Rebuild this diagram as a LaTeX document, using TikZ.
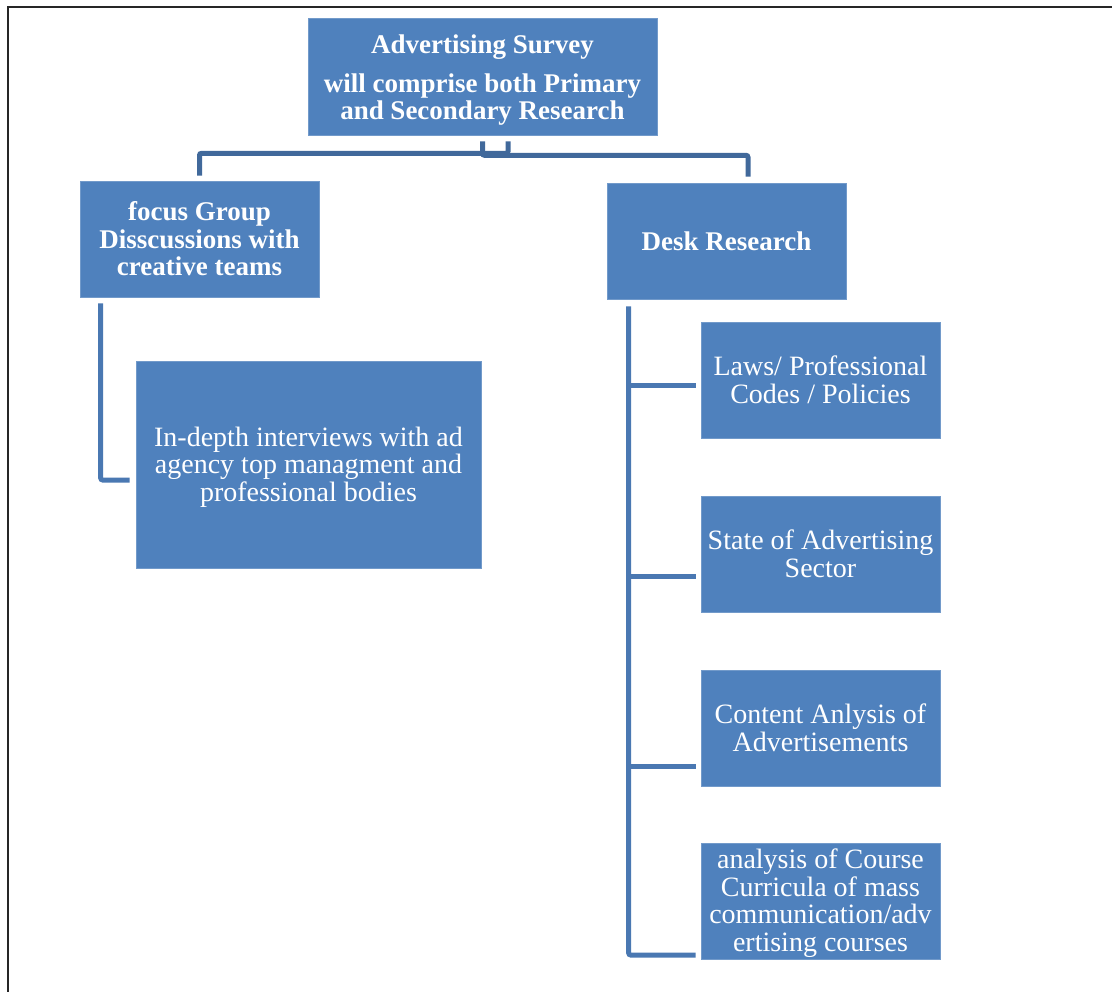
\documentclass[tikz,border=0pt]{standalone}
\usepackage{fontspec}
\setmainfont{Liberation Serif}
\definecolor{boxblue}{HTML}{4F81BD}
\definecolor{topline}{HTML}{41699B}
\definecolor{subline}{HTML}{4A78B2}
\newcommand{\firstpad}[1]{\rule{0pt}{#1}}
\begin{document}
\begin{tikzpicture}[x=1pt,y=-1pt,
  box/.style={fill=boxblue,draw=boxblue!80!white,line width=0.6pt,text=white,inner sep=0pt,align=center,
    font=\fontsize{28}{27.5}\selectfont},
  boldbox/.style={box,font=\fontsize{27}{27.5}\selectfont\bfseries},
  topconn/.style={draw=topline,line width=5pt,rounded corners=2pt},
  conn/.style={draw=subline,line width=5pt,rounded corners=2pt},
  frameline/.style={draw=black!85,line width=1.6pt}]
\useasboundingbox (0,0) rectangle (1112,992);
\draw[frameline] (8,992) -- (8,7) -- (1112,7);

\node[boldbox,minimum width=349,minimum height=117] (top) at (482.5,76.5)
  {\firstpad{26pt}Advertising Survey\\[11pt]will comprise both Primary\\and Secondary Research};
\node[boldbox,minimum width=239,minimum height=116] (focus) at (199.5,239)
  {focus Group\\Disscussions with\\creative teams};
\node[boldbox,minimum width=239,minimum height=116] (desk) at (726.5,241)
  {Desk Research};
\node[box,minimum width=345,minimum height=207] (indepth) at (308.5,464.5)
  {\firstpad{24.5pt}In-depth interviews with ad\\agency top managment and\\professional bodies};
\node[box,minimum width=239,minimum height=116] (laws) at (820.5,380)
  {Laws/ Professional\\Codes / Policies};
\node[box,minimum width=239,minimum height=116] (state) at (820.5,554)
  {State of Advertising\\Sector};
\node[box,minimum width=239,minimum height=116] (content) at (820.5,728)
  {Content Anlysis of\\Advertisements};
\node[box,minimum width=239,minimum height=116] (analysis) at (820.5,901)
  {\firstpad{24.5pt}analysis of Course\\Curricula of mass\\communication/adv\\ertising courses};

% top connectors (the two stubs cross each other's path)
\draw[topconn] ([xshift=25.5pt,yshift=-6pt]top.south) -- ++(0,12) -| ([yshift=5pt]focus.north);
\draw[topconn] ([yshift=-6pt]top.south) -- ++(0,14) -| ([xshift=21.5pt,yshift=6pt]desk.north);

% left child connector
\coordinate (fsv) at ([xshift=21pt,yshift=-6pt]focus.south west);
\coordinate (inin) at ([xshift=-6pt,yshift=-15.5pt]indepth.west);
\draw[conn] (fsv) |- (inin);

% right child connectors
\coordinate (dsv) at ([xshift=22pt,yshift=-7pt]desk.south west);
\coordinate (lawsin) at ([xshift=-5pt,yshift=-6pt]laws.west);
\coordinate (statein) at ([xshift=-5pt,yshift=-22pt]state.west);
\coordinate (contentin) at ([xshift=-5pt,yshift=-38pt]content.west);
\coordinate (analysisin) at ([xshift=-5pt,yshift=-54pt]analysis.west);
\draw[conn] (dsv) |- (analysisin);
\draw[conn] (dsv |- lawsin) -- (lawsin);
\draw[conn] (dsv |- statein) -- (statein);
\draw[conn] (dsv |- contentin) -- (contentin);
\end{tikzpicture}
\end{document}
